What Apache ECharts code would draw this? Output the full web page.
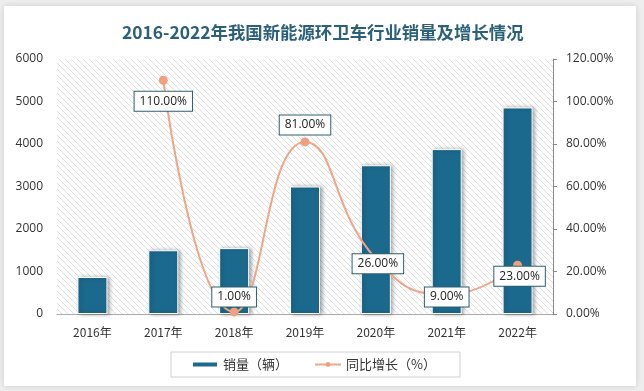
<!DOCTYPE html>
<html><head><meta charset="utf-8">
<script src="https://cdn.jsdelivr.net/npm/echarts@6/dist/echarts.min.js"></script>
<style>html,body{margin:0;padding:0;background:#eeeeee;}#c{width:644px;height:391px;}</style>
</head><body><div id="c"></div>
<script>
const categories = ['2016年','2017年','2018年','2019年','2020年','2021年','2022年'];
const sales = [870, 1500, 1550, 3000, 3500, 3880, 4860];
const growth = [null, 110, 1, 81, 26, 9, 23];
const labelOffsets = [null, [0,21], [0,-15], [0,-17], [2,5], [0,2], [2,11]];

// hatch pattern for plot background
const pc = document.createElement('canvas');
pc.width = 6; pc.height = 6;
const g = pc.getContext('2d');
g.fillStyle = '#ffffff'; g.fillRect(0,0,6,6);
g.strokeStyle = '#e0e0e0'; g.lineWidth = 1;
g.beginPath(); g.moveTo(0,0); g.lineTo(6,6); g.moveTo(-3,3); g.lineTo(3,9); g.moveTo(3,-3); g.lineTo(9,3); g.stroke();

const chart = echarts.init(document.getElementById('c'));
const lineData = growth.map((v,i)=> v==null ? null : {
  value: v,
  label: {offset: labelOffsets[i]}
});
chart.setOption({
  backgroundColor: '#eeeeee',
  animation: false,
  graphic: [{
    type: 'rect', shape: {x: 4, y: 6, width: 632, height: 380},
    style: {fill: '#ffffff', shadowBlur: 6, shadowColor: 'rgba(0,0,0,0.15)'}, z: -10
  }],
  title: {
    text: '2016-2022年我国新能源环卫车行业销量及增长情况',
    left: 117, top: 19,
    textStyle: {fontFamily: 'Noto Sans CJK SC', fontWeight: 'bold', fontSize: 17.4, color: '#2B6079'}
  },
  grid: {left: 57, right: 91, top: 59, bottom: 77, show: true, borderWidth: 0,
    backgroundColor: {image: pc, repeat: 'repeat'}},
  legend: {
    top: 352, left: 171, itemGap: 26,
    borderColor: '#d0d0d0', borderWidth: 1, padding: [6, 24, 6, 20],
    textStyle: {fontSize: 13, color: '#333', fontFamily: 'Noto Sans CJK SC'},
    data: [
      {name: '销量（辆）', icon: 'rect', itemStyle: {color: '#1B6A8E'}},
      {name: '同比增长（%）'}
    ],
    itemWidth: 26, itemHeight: 6
  },
  xAxis: {
    type: 'category', data: categories,
    axisLine: {lineStyle: {color: '#aaaaaa'}},
    axisTick: {show: false},
    axisLabel: {color: '#333', fontSize: 12, margin: 12, fontFamily: 'Noto Sans CJK SC'}
  },
  yAxis: [{
    type: 'value', min: 0, max: 6000, interval: 1000,
    splitLine: {show: false},
    axisLabel: {color: '#333', fontSize: 12, margin: 14, fontFamily: 'Open Sans',
      formatter: v => String(v)}
  }, {
    type: 'value', min: 0, max: 120, interval: 20,
    splitLine: {show: false},
    axisLine: {show: true, lineStyle: {color: '#888'}},
    axisTick: {show: true, inside: false, length: 4, lineStyle: {color: '#888'}},
    axisLabel: {color: '#333', fontSize: 12, margin: 13, fontFamily: 'Open Sans',
      formatter: v => v.toFixed(2) + '%'}
  }],
  series: [{
    name: '销量（辆）', type: 'bar', data: sales, barWidth: 30,
    itemStyle: {color: '#1B6A8E', borderColor: '#ffffff', borderWidth: 1,
      shadowBlur: 4, shadowColor: 'rgba(0,0,0,0.35)', shadowOffsetX: 2, shadowOffsetY: 0}
  }, {
    name: '同比增长（%）', type: 'line', yAxisIndex: 1, data: lineData, smooth: 0.5,
    symbol: 'circle', symbolSize: 9, connectNulls: false,
    lineStyle: {color: '#F2A585', width: 2},
    itemStyle: {color: '#F0A07E'},
    label: {show: true, position: 'inside', formatter: p => p.value.toFixed(2) + '%',
      backgroundColor: '#ffffff', borderColor: '#2F5F6F', borderWidth: 1,
      padding: [4, 5, 3, 5], color: '#222', fontSize: 12, fontFamily: 'Open Sans'}
  }]
});
</script></body></html>
